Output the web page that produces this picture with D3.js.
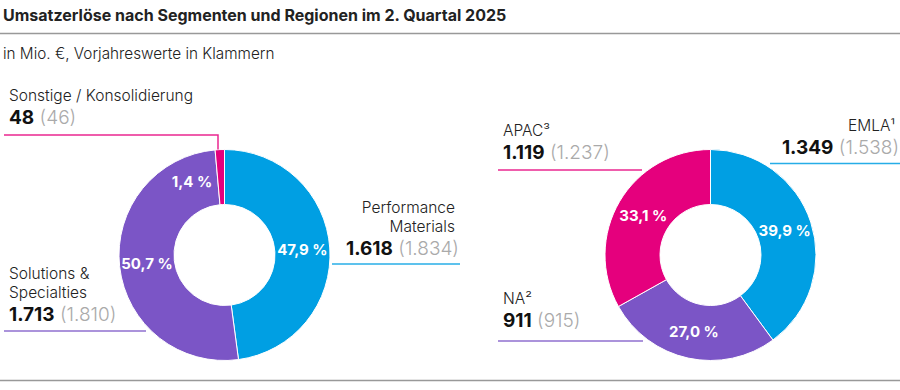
<!DOCTYPE html>
<html lang="de">
  <head>
    <meta charset="utf-8">
    <script src="https://cdn.jsdelivr.net/npm/d3@7"></script>
    <style>
      body {
        margin: 0;
        background: #fff;
      }
      svg {
        display: block;
        font-family: Inter, "Noto Sans", sans-serif;
      }
      .lbl {
        font-size: 15.5px;
        font-weight: 300;
        fill: #222;
      }
      .val {
        font-size: 19px;
        font-weight: 700;
        fill: #111;
      }
      .prev {
        font-weight: 300;
        fill: #aaa;
      }
      .pct {
        font-size: 15px;
        font-weight: 700;
        fill: #fff;
      }
    </style>
  </head>
  <body>
    <svg></svg>
  </body>
  <script>

    // data
    const segNames = ['Performance Materials', 'Solutions & Specialties', 'Sonstige / Konsolidierung'];
    const segValues = [1618, 1713, 48];
    const segPrev = [1834, 1810, 46];

    const regNames = ['EMLA', 'NA', 'APAC'];
    const regSup = ['¹', '²', '³'];
    const regValues = [1349, 911, 1119];
    const regPrev = [1538, 915, 1237];

    const colors = ['#009fe3', '#7b55c6', '#e5007d'];

    const width = 900;
    const height = 390;
    const rOuter = 105.5;
    const rInner = 50.5;

    const svg = d3.select('svg')
        .attr('width', width)
        .attr('height', height);

    const fmt = d3.formatLocale({ decimal: ',', thousands: '.', grouping: [3], currency: ['', ' €'] });
    const fmtInt = fmt.format(',d');
    const fmtPct = fmt.format('.1f');

    // header
    svg.append('text')
        .attr('x', 3).attr('y', 21)
        .style('font-size', '16px').style('font-weight', 700).style('fill', '#222')
        .text('Umsatzerlöse nach Segmenten und Regionen im 2. Quartal 2025');
    svg.append('line')
        .attr('x1', 0).attr('x2', width).attr('y1', 33.5).attr('y2', 33.5)
        .attr('stroke', '#999').attr('stroke-width', 1.5);
    svg.append('text')
        .attr('x', 3).attr('y', 59)
        .style('font-size', '15.3px').style('font-weight', 300).style('fill', '#222')
        .text('in Mio. €, Vorjahreswerte in Klammern');
    svg.append('line')
        .attr('x1', 0).attr('x2', width).attr('y1', 380.5).attr('y2', 380.5)
        .attr('stroke', '#999').attr('stroke-width', 1.5);

    const pie = d3.pie().sort(null);
    const arc = d3.arc().innerRadius(rInner).outerRadius(rOuter);
    const labelArc = d3.arc().innerRadius(78).outerRadius(78);

    function donut(cx, cy, values, pctShift) {
      const total = d3.sum(values);
      const g = svg.append('g').attr('transform', 'translate(' + cx + ',' + cy + ')');
      const arcs = pie(values);
      g.selectAll('path')
          .data(arcs)
        .enter().append('path')
          .attr('d', arc)
          .attr('fill', (d, i) => colors[i])
          .attr('stroke', '#fff')
          .attr('stroke-width', 1);
      g.selectAll('text')
          .data(arcs)
        .enter().append('text')
          .attr('class', 'pct')
          .attr('text-anchor', 'middle')
          .attr('dominant-baseline', 'central')
          .attr('transform', (d, i) => {
            let p = labelArc.centroid(d);
            if (pctShift[i] != null) {
              const a = pctShift[i] * Math.PI / 180;
              p = [80 * Math.sin(a), -80 * Math.cos(a)];
            }
            return 'translate(' + p[0] + ',' + p[1] + ')';
          })
          .text(d => fmtPct(d.value / total * 100) + ' %');
      return g;
    }

    // label block: lines of caption, then value line, then leader line
    function label(x, anchor, yTop, lines, value, prev, color, line) {
      const g = svg.append('g');
      lines.forEach((t, i) => {
        g.append('text')
            .attr('class', 'lbl')
            .attr('x', x).attr('y', yTop + i * 18.5)
            .attr('text-anchor', anchor)
            .text(t.text + (t.sup || ''));
      });
      const v = g.append('text')
          .attr('class', 'val')
          .attr('x', anchor === 'end' ? x + 4 : x)
          .attr('y', yTop + (lines.length - 1) * 18.5 + 23)
          .attr('text-anchor', anchor);
      v.append('tspan').text(fmtInt(value));
      v.append('tspan').attr('class', 'prev').text(' (' + fmtInt(prev) + ')');
      g.append('path')
          .attr('d', d3.line()(line))
          .attr('fill', 'none')
          .attr('stroke', color)
          .attr('stroke-opacity', 0.85)
          .attr('stroke-width', 1.5);
    }

    // left: segments
    const lc = [224.5, 255];
    donut(lc[0], lc[1], segValues, [null, null, -24]);

    label(455, 'end', 213, [{ text: 'Performance' }, { text: 'Materials' }], segValues[0], segPrev[0], colors[0],
      [[lc[0] + rOuter + 2, 264], [460, 264]]);
    label(9, 'start', 279, [{ text: 'Solutions &' }, { text: 'Specialties' }], segValues[1], segPrev[1], colors[1],
      [[4, 331], [lc[0] - 78.5, 331]]);
    label(9, 'start', 101, [{ text: 'Sonstige / Konsolidierung' }], segValues[2], segPrev[2], colors[2],
      [[4, 135], [lc[0] - 6.5, 135], [lc[0] - 6.5, lc[1] - rOuter]]);

    // right: regions
    const rc = [710.5, 255];
    donut(rc[0], rc[1], regValues, [null, null, null]);

    label(895, 'end', 131, [{ text: regNames[0], sup: regSup[0] }], regValues[0], regPrev[0], colors[0],
      [[770, 163.5], [width, 163.5]]);
    label(503, 'start', 136, [{ text: regNames[2], sup: regSup[2] }], regValues[2], regPrev[2], colors[2],
      [[498, 170], [642, 170]]);
    label(503, 'start', 304, [{ text: regNames[1], sup: regSup[1] }], regValues[1], regPrev[1], colors[1],
      [[498, 341], [643, 341]]);
  </script>
</html>
